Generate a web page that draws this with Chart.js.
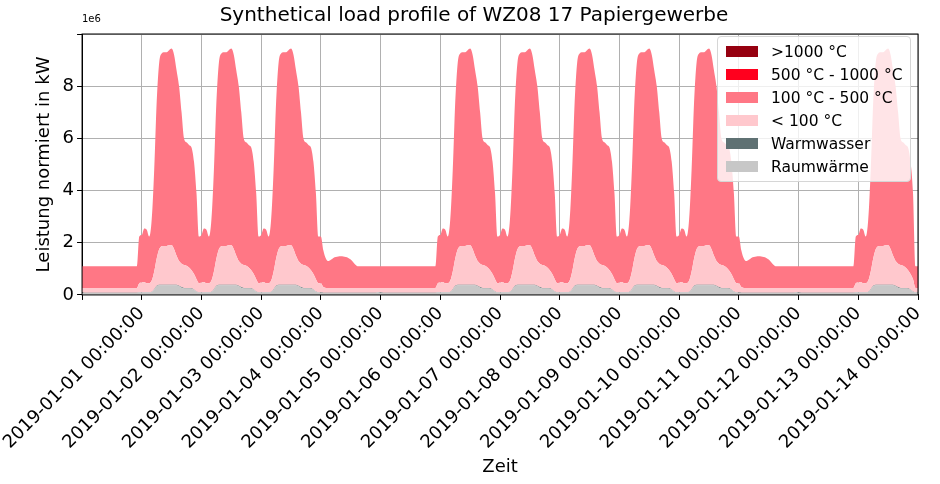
<!DOCTYPE html>
<html>
<head>
<meta charset="utf-8">
<script src="https://cdn.jsdelivr.net/npm/chart.js@4"></script>
<style>
body { margin: 0; background: #fff; font-family: "DejaVu Sans", sans-serif; }
#wrap { position: relative; width: 940px; height: 484px; }
#legend { position: absolute; left: 717px; top: 36px; width: 192px; padding: 3px 0 3px 0; white-space: nowrap;
  background: rgba(255,255,255,0.8); border: 1px solid #d6d6d6; border-radius: 4px; font-size: 15.5px; }
.item { display: flex; align-items: center; height: 23px; }
.sw { width: 32px; height: 11px; margin: 0 13px 0 8px; flex: none; }
#exp { position: absolute; left: 82px; top: 13px; font-size: 10px; }
</style>
</head>
<body>
<div id="wrap">
<canvas id="c" width="940" height="484"></canvas>
<div id="exp">1e6</div>
<div id="legend"></div>
</div>
<script>
// hourly profiles, index 0 = hour 23 of the previous day, then hours 0..22 (values in 1e6 kW, cumulative tops)
const workTotal = [2.24,2.3,2.55,2.5,2.24,2.9,4.8,7.4,8.9,9.25,9.3,9.3,9.38,9.44,9.2,8.6,8.0,7.0,6.0,5.85,5.75,5.65,5.1,3.9];
const postTotal = [2.24,2.24,1.7,1.4,1.3,1.35,1.42,1.45,1.47,1.48,1.47,1.45,1.42,1.36,1.25,1.15,1.1,1.1,1.1,1.1,1.1,1.1,1.1,1.1];
const offTotal  = [1.1,1.1,1.1,1.1,1.1,1.1,1.1,1.1,1.1,1.1,1.1,1.1,1.1,1.1,1.1,1.1,1.1,1.1,1.1,1.1,1.1,1.1,1.1,1.1];
const workLow = [0.45,0.48,0.5,0.45,0.45,0.55,0.9,1.4,1.75,1.87,1.88,1.88,1.9,1.9,1.75,1.5,1.3,1.2,1.15,1.12,1.05,0.95,0.8,0.6];
const postLow = [0.45,0.45,0.3,0.27,0.27,0.27,0.27,0.27,0.27,0.27,0.27,0.27,0.27,0.27,0.27,0.27,0.27,0.27,0.27,0.27,0.27,0.27,0.27,0.27];
const offLow  = [0.27,0.27,0.27,0.27,0.27,0.27,0.27,0.27,0.27,0.27,0.27,0.27,0.27,0.27,0.27,0.27,0.27,0.27,0.27,0.27,0.27,0.27,0.27,0.27];
const workWW = [0.1,0.1,0.1,0.1,0.1,0.12,0.22,0.35,0.39,0.39,0.39,0.39,0.39,0.39,0.39,0.39,0.35,0.3,0.27,0.27,0.27,0.26,0.21,0.13];
const workRW = [0.09,0.09,0.09,0.09,0.09,0.11,0.2,0.33,0.37,0.37,0.37,0.37,0.37,0.37,0.37,0.37,0.33,0.28,0.25,0.25,0.25,0.24,0.2,0.12];
const offWW = [0.1,0.09,0.085,0.085,0.085,0.085,0.085,0.085,0.085,0.085,0.085,0.085,0.085,0.085,0.085,0.085,0.085,0.085,0.085,0.085,0.085,0.085,0.085,0.085];
const offRW = [0.09,0.075,0.07,0.07,0.07,0.07,0.07,0.07,0.07,0.07,0.07,0.07,0.07,0.07,0.07,0.07,0.07,0.07,0.07,0.07,0.07,0.07,0.07,0.07];

// 2018-12-31 .. 2019-01-13 plus one trailing day
const dayTypes = ['off','work','work','work','post','off','work','work','work','work','work','post','off','work','off'];

const tickLabels = ['', '2019-01-01 00:00:00','2019-01-02 00:00:00','2019-01-03 00:00:00','2019-01-04 00:00:00',
  '2019-01-05 00:00:00','2019-01-06 00:00:00','2019-01-07 00:00:00','2019-01-08 00:00:00','2019-01-09 00:00:00',
  '2019-01-10 00:00:00','2019-01-11 00:00:00','2019-01-12 00:00:00','2019-01-13 00:00:00','2019-01-14 00:00:00'];

const profiles = {
  work: {total: workTotal, low: workLow, ww: workWW, rw: workRW},
  post: {total: postTotal, low: postLow, ww: offWW, rw: offRW},
  off:  {total: offTotal,  low: offLow,  ww: offWW, rw: offRW}
};

function series(key) {
  let pts = [];
  dayTypes.forEach((t, d) => {
    profiles[t][key].forEach((v, k) => {
      pts.push({x: d * 24 + k - 1, y: v * 1e6});
    });
  });
  return pts;
}

const layers = [
  {label: 'Raumwärme', color: '#c7c7c7', key: 'rw'},
  {label: 'Warmwasser', color: '#5f7173', key: 'ww'},
  {label: '< 100 °C', color: '#ffc8cd', key: 'low'},
  {label: '100 °C - 500 °C', color: '#ff7785', key: 'total'},
  {label: '500 °C - 1000 °C', color: '#ff001e', key: 'total'},
  {label: '>1000 °C', color: '#960010', key: 'total'}
];

const datasets = layers.map((l, i) => ({
  label: l.label,
  data: series(l.key),
  backgroundColor: l.color,
  borderWidth: 0,
  pointRadius: 0,
  fill: i === 0 ? 'origin' : '-1',
  cubicInterpolationMode: 'monotone'
}));

const leg = document.getElementById('legend');
layers.slice().reverse().forEach(l => {
  leg.innerHTML += '<div class="item"><div class="sw" style="background:' + l.color + '"></div>' + l.label + '</div>';
});

Chart.defaults.font.family = '"DejaVu Sans", sans-serif';
Chart.defaults.color = '#000';

new Chart(document.getElementById('c'), {
  type: 'line',
  data: {datasets: datasets},
  options: {
    responsive: false,
    animation: false,
    layout: {padding: {left: 30, right: 22, top: 2, bottom: 6}},
    plugins: {
      legend: {display: false},
      tooltip: {enabled: false},
      title: {display: true, text: 'Synthetical load profile of WZ08 17 Papiergewerbe',
        font: {size: 20, weight: 'normal'}, padding: {top: 2, bottom: 6}}
    },
    scales: {
      x: {
        type: 'linear', min: 0, max: 336,
        title: {display: true, text: 'Zeit', font: {size: 18}, padding: 0},
        ticks: {stepSize: 24, maxRotation: 45, minRotation: 45, font: {size: 18},
          callback: v => tickLabels[v / 24] || ''},
        grid: {color: '#b0b0b0', tickLength: 5, tickColor: '#000'},
        border: {color: '#000'}
      },
      y: {
        min: 0, max: 1e7,
        title: {display: true, text: 'Leistung normiert in kW', font: {size: 18}, padding: 4},
        ticks: {stepSize: 2e6, font: {size: 18}, callback: v => v > 8e6 ? '' : String(v / 1e6)},
        grid: {color: '#b0b0b0', tickLength: 5, tickColor: '#000'},
        border: {color: '#000'}
      }
    }
  },
  plugins: [{
    id: 'frame',
    afterDraw(chart) {
      const a = chart.chartArea, ctx = chart.ctx;
      ctx.save();
      ctx.strokeStyle = '#000';
      ctx.lineWidth = 1;
      ctx.strokeRect(a.left, a.top, a.right - a.left, a.bottom - a.top);
      ctx.restore();
    }
  }]
});
</script>
</body>
</html>
